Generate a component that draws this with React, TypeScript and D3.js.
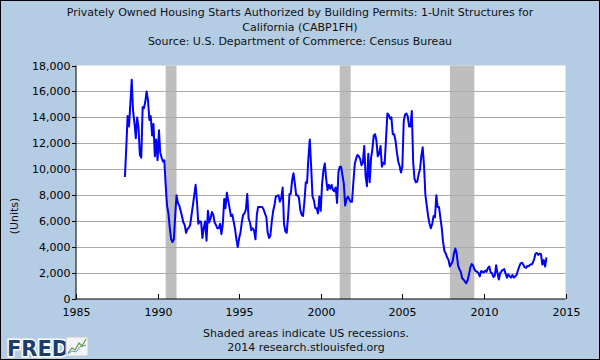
import React from "react";
import * as d3 from "d3";

// ---- data ----
const startYear = 1988; // monthly series starts Jan 1988
const permits: number[] = [
  9400, 11700, 14100, 13300, 15000, 16900, 14500, 13600, 12400, 14000, 13200, 11100,
  10900, 14800, 14700, 15200, 16000, 15300, 13800, 14100, 12600, 13500, 11000, 12300,
  10700, 13000, 11300, 10900, 10600, 10700, 8800, 7200, 6600, 5500, 4600, 4400,
  4600, 6500, 8000, 7400, 7200, 6800, 6400, 5900, 5700, 5100, 5400, 5500,
  5700, 6500, 7200, 8000, 8800, 7500, 5800, 6000, 5950, 4700, 5500, 6000,
  4500, 6800, 5900, 6200, 6700, 6500, 5900, 5700, 5450, 5450, 5800, 5000,
  5800, 7700, 7000, 8200, 7600, 7000, 6400, 6500, 5950, 5400, 4600, 4000,
  4700, 5150, 5900, 6500, 6600, 6900, 8100, 6200, 5900, 5300, 5450, 5300,
  4600, 6500, 7100, 7100, 7100, 7100, 6900, 6600, 6300, 5100, 4700, 4900,
  6000, 6800, 7200, 7900, 7950, 8000, 7500, 7800, 8600, 5800, 5200, 5100,
  6400, 8100, 8100, 9150, 9700, 8900, 8000, 8000, 7800, 6850, 6500, 6400,
  7500, 9000, 8950, 10900, 12300, 10200, 7900, 7600, 7000, 7000, 6600, 7900,
  6800, 8900, 9900, 10450, 9300, 8400, 8800, 8500, 8800, 8400, 8300, 8600,
  7400, 9800, 10200, 10200, 9550, 8900, 7200, 7700, 7900, 7700, 7500, 7500,
  9000, 10400, 10800, 11100, 11000, 10800, 10300, 10500, 11800, 9500, 8700, 11200,
  9000, 10900, 11500, 12600, 12700, 12200, 11000, 11200, 11800, 10200, 10500, 10400,
  12300, 14300, 14200, 13900, 14000, 12700, 12700, 12200, 11300, 10600, 10250, 9750,
  10200, 13700, 14200, 14300, 14100, 13300, 13300, 14500, 10500, 9250, 9000, 9050,
  9650, 10000, 11000, 11700, 10300, 8000, 7200, 6400, 5800, 5450, 5800, 6400,
  6300, 8000, 7100, 7100, 6300, 5500, 4400, 3700, 3500, 3200, 3000, 2500,
  2700, 2900, 3500, 3900, 3500, 2600, 2300, 2100, 1600, 1500, 1350, 1200,
  1450, 1900, 2400, 2700, 2600, 2300, 2150, 2100, 2000, 1750, 2150, 2100,
  2050, 2200, 2100, 2400, 2500, 2050, 2000, 1700, 1800, 2600, 2000, 1500,
  2000, 2150, 2250, 2300, 1950, 1650, 1900, 1750, 1650, 1850, 1650, 1750,
  1850, 2200, 2500, 2750, 2800, 2650, 2450, 2400, 2550, 2550, 2650, 2650,
  2800, 3100, 3500, 3550, 3400, 3500, 3450, 2650, 3000, 2500, 3200,
];
const recessionStarts = ["1990-07-01", "2001-03-01", "2007-12-01"];
const recessionEnds = ["1991-03-01", "2001-11-01", "2009-06-01"];
const yTicks = [0, 2000, 4000, 6000, 8000, 10000, 12000, 14000, 16000, 18000];
const xTickYears = [1985, 1990, 1995, 2000, 2005, 2010, 2015];
const titleLines = [
  "Privately Owned Housing Starts Authorized by Building Permits: 1-Unit Structures for",
  "California (CABP1FH)",
  "Source: U.S. Department of Commerce: Census Bureau",
];
const footerLines = ["Shaded areas indicate US recessions.", "2014 research.stlouisfed.org"];

const W = 600, H = 360;
const L = 76, R = 565.5, T = 65.5, B = 299;
const FONT = "DejaVu Sans, Verdana, sans-serif";

export default function App() {
  const x = d3.scaleTime().domain([new Date(1985, 0, 1), new Date(2015, 0, 1)]).range([L, R]);
  const y = d3.scaleLinear().domain([0, 18000]).range([B, T]);
  const pts = permits.map((v, i) => ({ d: new Date(startYear, i, 1), v }));
  const line = d3.line<{ d: Date; v: number }>().x((p) => x(p.d)).y((p) => y(p.v));
  const fmt = d3.format(",");
  const parse = d3.timeParse("%Y-%m-%d");

  return (
    <>
      <style>{`body{margin:0}`}</style>
      <svg width={W} height={H} style={{ display: "block" }} fontFamily={FONT}>
        <rect x={0.5} y={0.5} width={W - 1} height={H - 1} fill="#b4cde4" stroke="#000" strokeWidth={1} />
        {titleLines.map((t, i) => (
          <text key={i} x={300} y={16 + i * 14.5} textAnchor="middle" fontSize={11} fill="#111">
            {t}
          </text>
        ))}
        <rect x={L} y={T} width={R - L} height={B - T} fill="#fff" />
        {recessionStarts.map((s, i) => {
          const x0 = x(parse(s)!), x1 = x(parse(recessionEnds[i])!);
          return <rect key={i} x={x0} y={T} width={x1 - x0} height={B - T} fill="#bebebe" />;
        })}
        {yTicks.filter((v) => v > 0 && v < 18000).map((v) => (
          <line key={v} x1={L} x2={R} y1={Math.round(y(v)) + 0.5} y2={Math.round(y(v)) + 0.5} stroke="#aaaaaa" strokeWidth={1} />
        ))}
        <path d={line(pts) || ""} fill="none" stroke="#0000ff" strokeWidth={2} strokeLinejoin="round" />
        <line x1={L} x2={L} y1={T} y2={B} stroke="#000" strokeWidth={1} />
        <line x1={L} x2={R} y1={B} y2={B} stroke="#000" strokeWidth={1} />
        {yTicks.map((v) => (
          <g key={v}>
            <line x1={L - 4} x2={L} y1={Math.round(y(v)) + 0.5} y2={Math.round(y(v)) + 0.5} stroke="#000" />
            <text x={70.5} y={y(v) + 4} textAnchor="end" fontSize={11} fill="#000">
              {fmt(v)}
            </text>
          </g>
        ))}
        {xTickYears.map((yr) => {
          const xx = Math.round(x(new Date(yr, 0, 1))) + 0.5;
          return (
            <g key={yr}>
              <line x1={xx} x2={xx} y1={B - 5} y2={B} stroke="#000" />
              <text x={xx} y={316} textAnchor="middle" fontSize={11} fill="#000">
                {yr}
              </text>
            </g>
          );
        })}
        <text transform="translate(18,216) rotate(-90)" textAnchor="middle" fontSize={11} fill="#111">
          (Units)
        </text>
        {footerLines.map((t, i) => (
          <text key={i} x={306} y={337 + i * 14} textAnchor="middle" fontSize={11} fill="#111">
            {t}
          </text>
        ))}
        <g>
          <text x={7} y={356} fontSize={21} fontWeight="bold" fill="#fff" stroke="#fff" strokeWidth={3} fontFamily="DejaVu Sans, sans-serif">
            FRED
          </text>
          <text x={7} y={356} fontSize={21} fontWeight="bold" fill="#1c3d6e" fontFamily="DejaVu Sans, sans-serif">
            FRED
          </text>
          <rect x={66} y={337} width={22} height={19} rx={2} fill="#f2f4f6" stroke="#c8ccd0" />
          <polyline points="68,353 72,348 75,350 79,343 82,346 86,339" fill="none" stroke="#5a9a3a" strokeWidth={1.2} />
          <polyline points="68,354 72,351 76,352 80,347 86,345" fill="none" stroke="#6a8ec0" strokeWidth={1} />
        </g>
      </svg>
    </>
  );
}
